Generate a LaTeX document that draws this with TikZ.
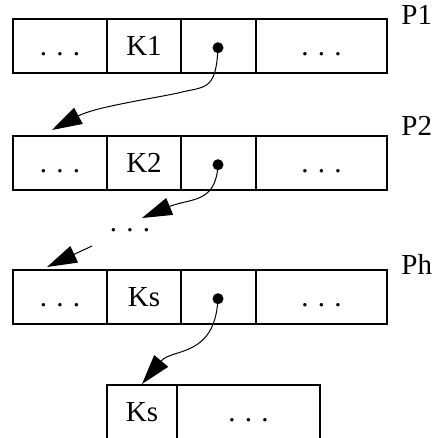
\documentclass[tikz,border=0pt]{standalone}
\usepackage{fontspec}
\setmainfont{Liberation Serif}
\usetikzlibrary{arrows.meta}
\newcommand{\gapdots}{.\hspace{0.32em}.\hspace{0.32em}.}

\begin{document}
\begin{tikzpicture}[x=0.5pt, y=-0.5pt]
    \tikzstyle{cell} = [rectangle, draw, line width=1pt, inner sep=0pt, minimum height=27pt, text height=9.5pt, text depth=0pt, font=\fontsize{14.5}{16}\selectfont]
    \tikzstyle{ptrdot} = [circle, fill=black, inner sep=0pt, minimum size=5.5pt]
    \tikzstyle{ptr} = [line width=0.5pt, -{Triangle[length=15pt, width=9pt]}]
    \tikzstyle{pagelab} = [anchor=base west, inner sep=0pt, font=\fontsize{14.5}{16}\selectfont]

    \clip (0,0) rectangle (433,438);

    % Pages P1, P2, Ph
    \foreach \r/\y/\k in {1/46/K1, 2/163/K2, 3/297/Ks} {
        \node[cell, minimum width=47pt] (p\r-a) at (60,\y) {\gapdots};
        \node[cell, minimum width=37pt] (p\r-b) at (144,\y) {\k};
        \node[cell, minimum width=37.5pt] (p\r-c) at (218.5,\y) {};
        \node[cell, minimum width=65.5pt] (p\r-d) at (321.5,\y) {\gapdots};
        \node[ptrdot] (dot\r) at (218,\y+1.7) {};
    }
    \node[pagelab] (lab1) at (401,25) {P1};
    \node[pagelab] (lab2) at (401,136) {P2};
    \node[pagelab] (lab3) at (401,274) {Ph};

    % Leaf record
    \node[cell, minimum width=35pt] (q-a) at (142,412) {Ks};
    \node[cell, minimum width=71.5pt] (q-b) at (248.5,412) {\gapdots};

    % Pointers
    \node[anchor=base, inner sep=0pt, font=\fontsize{14.5}{16}\selectfont] (gap) at (130,231) {\gapdots};
    \coordinate (t1) at (52,130);
    \coordinate (t2) at (142,218);
    \coordinate (s3) at (92,246);
    \coordinate (t3) at (47,267);
    \draw[ptr] (dot1.center) .. controls (216,92) and (205,86) .. (178,93)
        .. controls (150,99) and (95,107) .. (t1);
    \draw[ptr] (dot2.center) .. controls (216,204) and (190,198) .. (t2);
    \draw[ptr] (s3) -- (t3);
    \draw[ptr] (dot3.center) .. controls (215,358) and (172,348) .. (q-a.north);

\end{tikzpicture}
\end{document}
